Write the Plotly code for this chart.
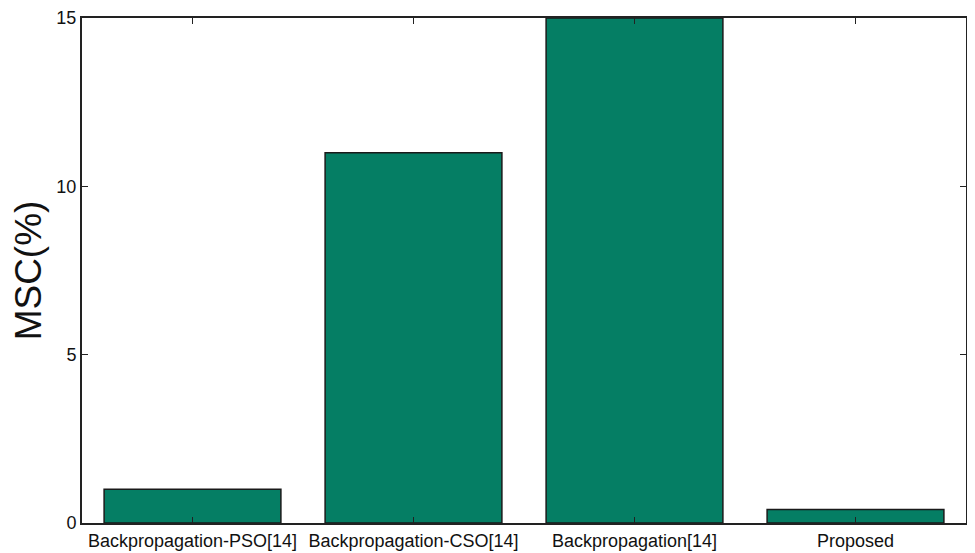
import plotly.graph_objects as go

categories = ["Backpropagation-PSO[14]", "Backpropagation-CSO[14]", "Backpropagation[14]", "Proposed"]
msc_values = [1.0, 11.0, 15.0, 0.4]
y_ticks = [0, 5, 10, 15]

fig = go.Figure()
fig.add_trace(go.Bar(
    x=categories,
    y=msc_values,
    width=0.8,
    marker=dict(color="#057e64", line=dict(color="#1a1a1a", width=1.5)),
))

# page body has an 8px margin, so the figure is sized to fit inside the window
fig.update_layout(
    width=967,
    height=545,
    plot_bgcolor="white",
    paper_bgcolor="white",
    showlegend=False,
    margin=dict(l=74, r=9, t=10, b=30),
    font=dict(family="Liberation Sans, Arial, sans-serif", color="#111"),
    xaxis=dict(
        range=[-0.5, 3.5],
        automargin=False,
        showline=True, linecolor="#222", linewidth=2, mirror="ticks",
        ticks="inside", ticklen=6, tickcolor="#222",
        tickfont=dict(size=18),
        showgrid=False,
    ),
    yaxis=dict(
        range=[0, 15],
        automargin=False,
        tickvals=y_ticks,
        ticklabeloverflow="allow",
        showline=True, linecolor="#222", linewidth=2, mirror="ticks",
        ticks="inside", ticklen=6, tickcolor="#222",
        tickfont=dict(size=18),
        showgrid=False, zeroline=False,
        title=dict(text="MSC(%)", font=dict(size=37), standoff=14),
    ),
)

fig.write_html("out.html")
